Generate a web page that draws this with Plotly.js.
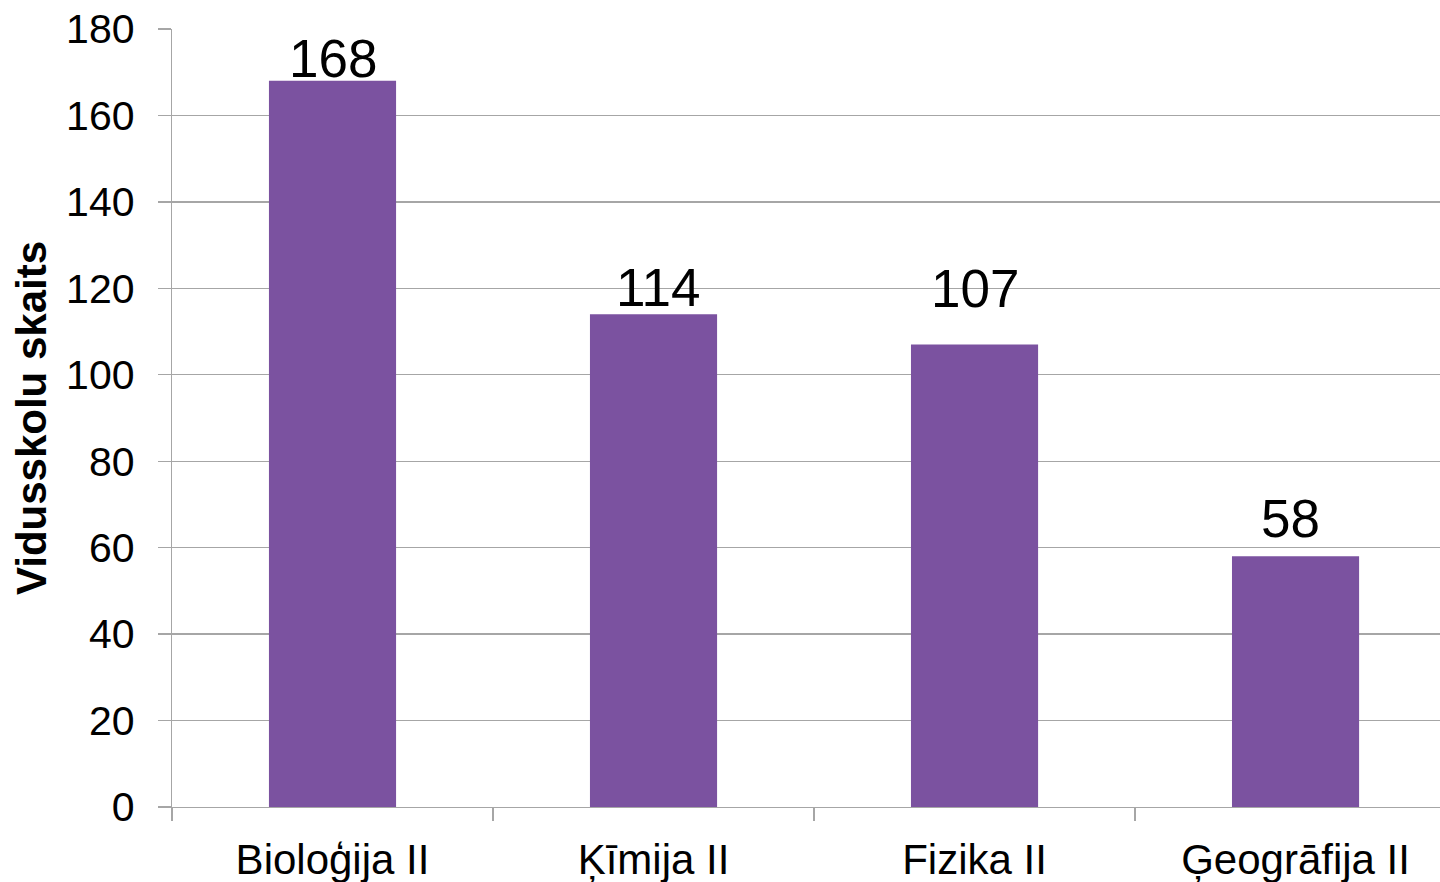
<!DOCTYPE html>
<html>
<head>
<meta charset="utf-8">
<script src="https://cdn.plot.ly/plotly-3.0.1.min.js"></script>
<style>html,body{margin:0;padding:0;background:#fff;}#chart{width:1440px;height:882px;}</style>
</head>
<body>
<div id="chart"></div>
<script>
const categories = ["Bioloģija II", "Ķīmija II", "Fizika II", "Ģeogrāfija II"];
const values = [168, 114, 107, 58];
const yTicks = [0, 20, 40, 60, 80, 100, 120, 140, 160, 180];
const yTitle = "Vidusskolu skaits";

const font = "Liberation Sans, Arial, sans-serif";
// label placement offsets (pixels) and horizontal nudges, styling only
const labelYShift = [-9, -5, 25, 6];
const labelXShift = [0, 5, 0, -5];

const trace = {
  type: "bar",
  x: categories,
  y: values,
  marker: {color: "#7B52A0"},
  hoverinfo: "none"
};
const annotations = categories.map((c, i) => ({
  x: c, y: values[i], xref: "x", yref: "y",
  text: String(values[i]),
  showarrow: false,
  yanchor: "bottom", xanchor: "center",
  yshift: labelYShift[i], xshift: labelXShift[i],
  font: {family: font, size: 53, color: "#000"}
}));
const layout = {
  width: 1440, height: 882,
  margin: {l: 172, r: 0, t: 29, b: 75},
  paper_bgcolor: "#fff", plot_bgcolor: "#fff",
  bargap: 0.604,
  showlegend: false,
  font: {family: font, color: "#000"},
  annotations: annotations,
  xaxis: {
    type: "category",
    range: [-0.5, 3.45],
    tickson: "boundaries",
    ticks: "outside", ticklen: 13, tickcolor: "#A6A6A6", tickwidth: 1.3,
    showline: true, linecolor: "#A6A6A6", linewidth: 1.3,
    showgrid: false,
    tickfont: {family: font, size: 42, color: "#000"},
    ticklabelstandoff: 15
  },
  yaxis: {
    range: [0, 180],
    tickvals: yTicks,
    ticktext: yTicks.map(String),
    ticks: "outside", ticklen: 13, tickcolor: "#A6A6A6", tickwidth: 1.3,
    showline: true, linecolor: "#A6A6A6", linewidth: 1.3,
    showgrid: true, gridcolor: "#A6A6A6", gridwidth: 1.3,
    zeroline: false,
    tickfont: {family: font, size: 41, color: "#000"},
    ticklabelstandoff: 15,
    title: {text: yTitle, font: {family: font, size: 42, color: "#000", weight: "bold"}, standoff: 6}
  }
};
Plotly.newPlot("chart", [trace], layout, {displayModeBar: false, staticPlot: true});
</script>
</body>
</html>
